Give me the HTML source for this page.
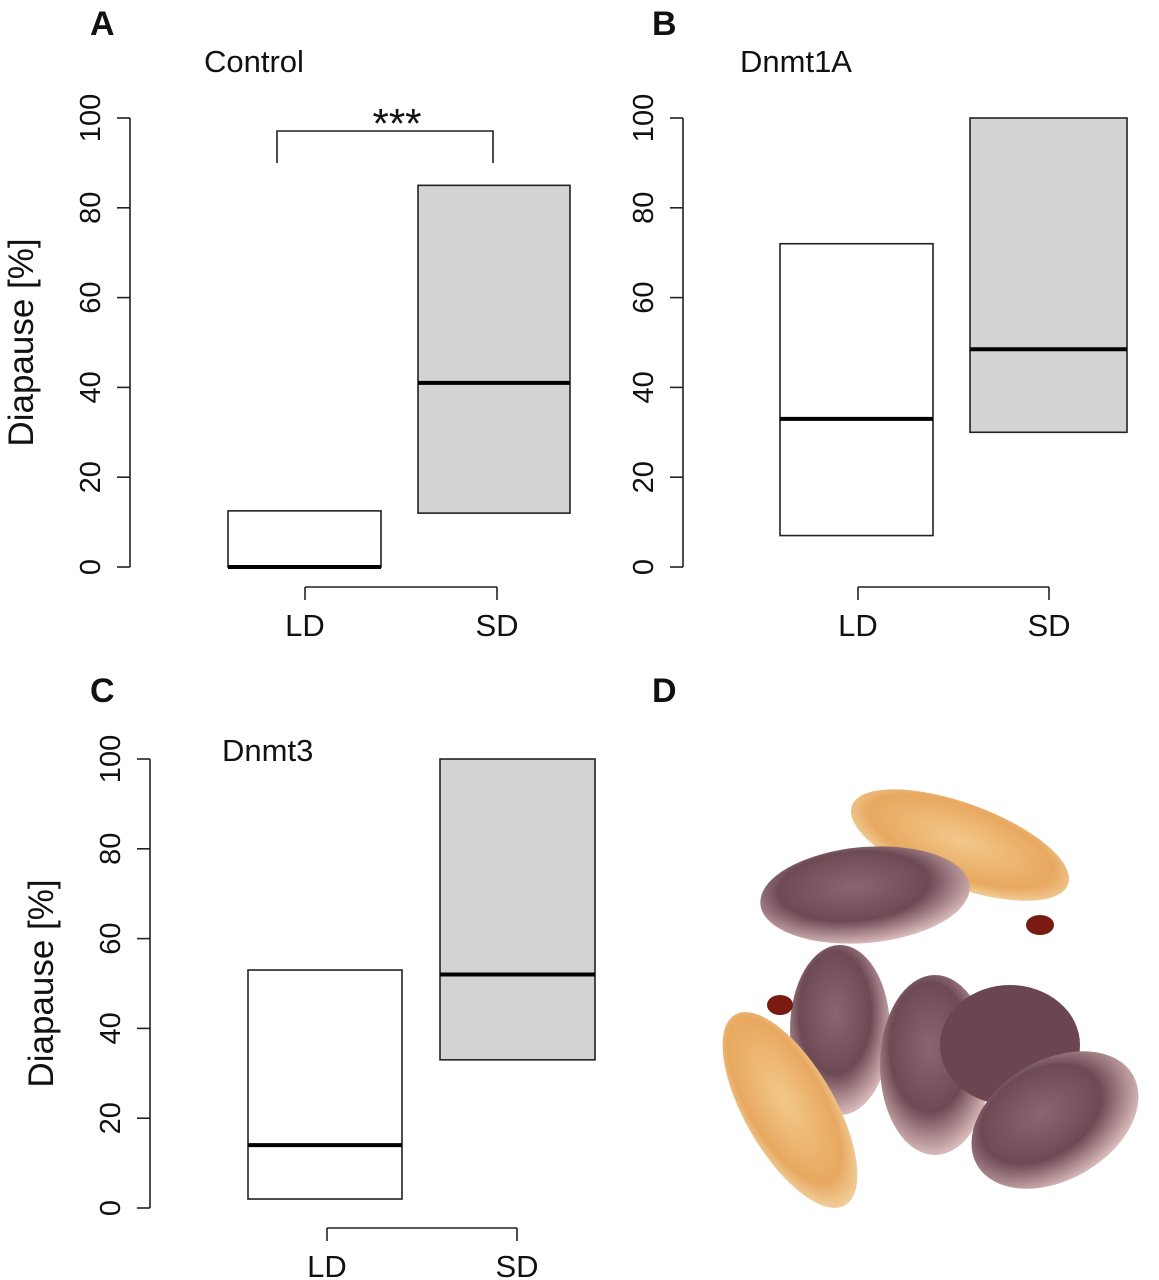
<!DOCTYPE html>
<html><head><meta charset="utf-8"><style>
html,body{margin:0;padding:0;background:#fff;}
svg{display:block;font-family:"Liberation Sans",Arial,sans-serif;}
</style></head><body>
<svg id="fig" width="1159" height="1280" viewBox="0 0 1159 1280" xmlns="http://www.w3.org/2000/svg">
<defs>
<radialGradient id="pupa" cx="45%" cy="40%" r="60%"><stop offset="0" stop-color="#8a6670"/><stop offset="0.6" stop-color="#6e4a55"/><stop offset="1" stop-color="#d8b8b8"/></radialGradient>
<radialGradient id="larva" cx="50%" cy="45%" r="60%"><stop offset="0" stop-color="#f2c88a"/><stop offset="0.7" stop-color="#e8a860"/><stop offset="1" stop-color="#f4dcb0"/></radialGradient>
</defs>
<g id="photo">
<ellipse cx="960" cy="845" rx="115" ry="42" transform="rotate(20 960 845)" fill="url(#larva)"/>
<ellipse cx="865" cy="895" rx="105" ry="48" transform="rotate(-5 865 895)" fill="url(#pupa)"/>
<ellipse cx="840" cy="1030" rx="50" ry="85" fill="url(#pupa)"/>
<ellipse cx="790" cy="1110" rx="45" ry="110" transform="rotate(-30 790 1110)" fill="url(#larva)"/>
<ellipse cx="935" cy="1065" rx="55" ry="90" fill="url(#pupa)"/>
<ellipse cx="1010" cy="1045" rx="70" ry="60" fill="#6b4650"/>
<ellipse cx="1055" cy="1120" rx="90" ry="60" transform="rotate(-30 1055 1120)" fill="url(#pupa)"/>
<ellipse cx="1040" cy="925" rx="14" ry="10" fill="#7a1a10"/>
<ellipse cx="780" cy="1005" rx="13" ry="10" fill="#7a1a10"/>
</g>
</svg>
<script>
const panelNames = ["control","dnmt1a","dnmt3"];
const groups = ["LD","SD"];
const lowVals = [[0,12],[7,30],[2,33]];
const highVals = [[12.5,85],[72,100],[53,100]];
const medVals = [[0,41],[33,48.5],[14,52]];
const yTicks = [0,20,40,60,80,100];
const layouts = [
 {ax:130,y0:567,y100:118,bx:[[228,381],[418,570]],xa:[305,497],title:true},
 {ax:683,y0:567,y100:118,bx:[[780,933],[970,1127]],xa:[858,1049],title:false},
 {ax:150,y0:1208,y100:759,bx:[[248,402],[440,595]],xa:[327,517],title:true}
];
const svg=document.getElementById('fig');
const NS="http://www.w3.org/2000/svg";
function mk(t,a,p){const e=document.createElementNS(NS,t);for(const k in a)e.setAttribute(k,a[k]);(p||svg).appendChild(e);return e;}
layouts.forEach((L,pi)=>{
 const g=mk('g',{});
 
 
 const ys=v=>L.y0+(L.y100-L.y0)*v/100;
 const yl=mk('line',{x1:L.ax,x2:L.ax,y1:ys(0),y2:ys(100),stroke:'#222','stroke-width':1.6},g);
 
 
 yTicks.forEach(t=>{
  mk('line',{x1:L.ax-13,x2:L.ax,y1:ys(t),y2:ys(t),stroke:'#222','stroke-width':1.6},g);
  const tx=mk('text',{x:0,y:0,'font-size':29,'text-anchor':'middle',fill:'#111',transform:`translate(${L.ax-30},${ys(t)}) rotate(-90)`},g);
  tx.textContent=t;
  
  
 });
 if(L.title){
 const yt=mk('text',{x:0,y:0,'font-size':35,'text-anchor':'middle',fill:'#111',transform:`translate(${L.ax-97},${(ys(50))}) rotate(-90)`},g);
 yt.textContent='Diapause [%]';
 
 
 }
 groups.forEach((gr,i)=>{
  const [x1,x2]=L.bx[i];
  const r=mk('rect',{x:x1,y:ys(highVals[pi][i]),width:x2-x1,height:ys(lowVals[pi][i])-ys(highVals[pi][i]),fill:i?'#d3d3d3':'#fff',stroke:'#222','stroke-width':1.6},g);
  
  
  const m=mk('line',{x1:x1,x2:x2,y1:ys(medVals[pi][i]),y2:ys(medVals[pi][i]),stroke:'#000','stroke-width':4},g);
  
  
  const xl=mk('text',{x:L.xa[i],y:ys(0)+69,'font-size':31,'text-anchor':'middle',fill:'#111'},g);
  xl.textContent=gr;
  
  
  mk('line',{x1:L.xa[i],x2:L.xa[i],y1:ys(0)+20,y2:ys(0)+33,stroke:'#222','stroke-width':1.6},g);
 });
 const xa=mk('line',{x1:L.xa[0],x2:L.xa[1],y1:ys(0)+20,y2:ys(0)+20,stroke:'#222','stroke-width':1.6},g);
 
 
});
function txt(s,x,y,sz,w,name,anchor){const t=mk('text',{x:x,y:y,'font-size':sz,'font-weight':w,fill:'#111','text-anchor':anchor||'start'});t.textContent=s;
 
 }
txt('A',90,35,34,'bold','panel-label-a');
txt('B',652,35,34,'bold','panel-label-b');
txt('C',90,702,34,'bold','panel-label-c');
txt('D',652,702,34,'bold','panel-label-d');
txt('Control',204,72,31,'normal','title-control');
txt('Dnmt1A',740,72,31,'normal','title-dnmt1a');
txt('Dnmt3',222,761,31,'normal','title-dnmt3');
const br=mk('path',{d:'M277 163 V131 H493 V163',fill:'none',stroke:'#222','stroke-width':1.6});


txt('***',397,138,42,'normal','significance-stars','middle');
</script>
</body></html>
